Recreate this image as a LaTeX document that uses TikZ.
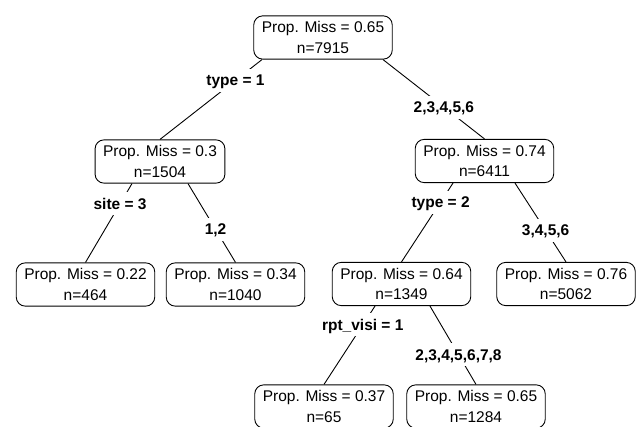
\documentclass[tikz,border=0pt]{standalone}
\usepackage{fontspec}
\setmainfont{Liberation Sans}
\begin{document}
\begin{tikzpicture}[x=1pt,y=-1pt,line width=0.9pt,
    leaf/.style={draw,rounded corners=9pt,align=center,inner xsep=8pt,inner ysep=5.7pt,
      font=\fontsize{15.5}{20.5}\selectfont},
    split/.style={fill=white,inner sep=6pt,text height=11pt,text depth=0pt,
      font=\bfseries\fontsize{15.5}{18}\selectfont}]

      \useasboundingbox (0,0) rectangle (640,427);

      \begin{scope}[every node/.style={leaf}]
        \node (1) at (323,37.5)   {Prop. Miss = 0.65\\n=7915};
        \node (2) at (160,161.5)  {Prop. Miss = 0.3\\n=1504};
        \node (3) at (484.5,161)  {Prop. Miss = 0.74\\n=6411};
        \node (4) at (85.5,284.5) {Prop. Miss = 0.22\\n=464};
        \node (5) at (235.5,284.5) {Prop. Miss = 0.34\\n=1040};
        \node (6) at (401.5,284)  {Prop. Miss = 0.64\\n=1349};
        \node (7) at (566,284)    {Prop. Miss = 0.76\\n=5062};
        \node (8) at (324,406.5)  {Prop. Miss = 0.37\\n=65};
        \node (9) at (476,406.5)  {Prop. Miss = 0.65\\n=1284};
      \end{scope}

      \begin{scope}[every node/.style={split}]
        \draw ([xshift=-61pt]1.south)   -- node[pos=.26]  {type = 1} (2.north);
        \draw ([xshift=60pt]1.south)    -- node[pos=.6]   {2,3,4,5,6} (3.north);
        \draw ([xshift=-28pt]2.south)   -- node[pos=.256] {site = 3} (4.north);
        \draw ([xshift=28pt]2.south)    -- node[pos=.58]  {1,2} (5.north);
        \draw ([xshift=-31.5pt]3.south) -- node[pos=.24]  {type = 2} (6.north);
        \draw ([xshift=30.5pt]3.south)  -- node[pos=.6]   {3,4,5,6} (7.north);
        \draw ([xshift=-26.5pt]6.south) -- node[pos=.24]  {rpt\_visi = 1} (8.north);
        \draw ([xshift=28.5pt]6.south)  -- node[pos=.62]  {2,3,4,5,6,7,8} (9.north);
      \end{scope}

    \end{tikzpicture}
\end{document}
